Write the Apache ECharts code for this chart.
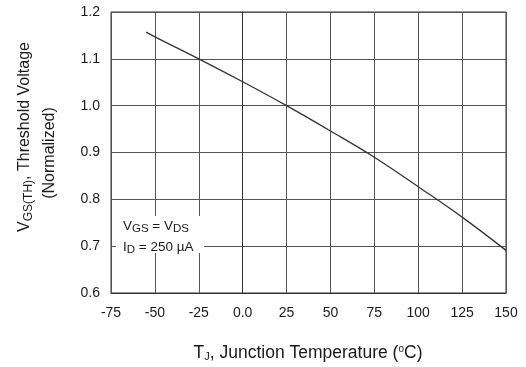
<!DOCTYPE html>
<html><head><meta charset="utf-8">
<script src="https://cdn.jsdelivr.net/npm/echarts@6/dist/echarts.min.js"></script>
<style>html,body{margin:0;padding:0;background:#fff}#c{width:526px;height:367px}</style>
</head><body><div id="c"></div>
<script>
const temps = [-55, -50, -25, 0, 25, 50, 75, 100, 125, 150];
const vth = [1.157, 1.147, 1.100, 1.051, 1.000, 0.946, 0.890, 0.827, 0.762, 0.691];
const xTicks = [-75, -50, -25, 0, 25, 50, 75, 100, 125, 150];
const yTicks = [0.6, 0.7, 0.8, 0.9, 1.0, 1.1, 1.2];

const chart = echarts.init(document.getElementById('c'));
const F = 'Liberation Sans, Arial, sans-serif';
const C = '#1a1a1a';
chart.setOption({
  animation: false,
  backgroundColor: '#fff',
  grid: {left: 111, right: 20, top: 12, bottom: 74, show: true, borderColor: '#333', borderWidth: 1},
  xAxis: {
    type: 'value', min: xTicks[0], max: xTicks[xTicks.length-1], interval: 25,
    axisLine: {show: true, lineStyle: {color: '#333'}},
    axisTick: {show: false},
    splitLine: {show: true, lineStyle: {color: '#555', width: 1}},
    axisLabel: {color: C, fontFamily: F, fontSize: 14, margin: 13,
      formatter: v => v === 0 ? '0.0' : String(v)}
  },
  yAxis: {
    type: 'value', min: yTicks[0], max: yTicks[yTicks.length-1], interval: 0.1,
    axisLine: {show: true, lineStyle: {color: '#333'}},
    axisTick: {show: false},
    splitLine: {show: true, lineStyle: {color: '#555', width: 1}},
    axisLabel: {color: C, fontFamily: F, fontSize: 14, margin: 11,
      formatter: v => v.toFixed(1)}
  },
  series: [{
    type: 'line', data: temps.map((t, i) => [t, vth[i]]),
    showSymbol: false, smooth: 0.4,
    lineStyle: {color: '#333', width: 1.3}, z: 5
  }],
  graphic: [
    {type: 'rect', shape: {x: 116, y: 216, width: 88, height: 37}, style: {fill: '#fff'}, z: 3},
    {type: 'text', x: 123, y: 218, z: 4, style: {
      text: '{n|V}{s|GS}{n| = V}{s|DS}', fill: C, fontFamily: F,
      rich: {n: {fontSize: 13.5, fontFamily: F, fill: C}, s: {fontSize: 11.5, fontFamily: F, fill: C, padding: [5, 0, 0, 0]}}
    }},
    {type: 'text', x: 123, y: 239, z: 4, style: {
      text: '{n|I}{s|D}{n| = 250 µA}', fill: C, fontFamily: F,
      rich: {n: {fontSize: 13.5, fontFamily: F, fill: C}, s: {fontSize: 11.5, fontFamily: F, fill: C, padding: [5, 0, 0, 0]}}
    }},
    {type: 'text', x: 308, y: 353, z: 4, style: {
      text: '{n|T}{s|J}{n|, Junction Temperature (}{p|o}{n|C)}', align: 'center', verticalAlign: 'middle',
      rich: {n: {fontSize: 17.5, fontFamily: F, fill: C}, s: {fontSize: 11, fontFamily: F, fill: C, padding: [7, 0, 0, 0]}, p: {fontSize: 10, fontFamily: F, fill: C, padding: [0, 0, 7, 0]}}
    }},
    {type: 'text', x: 25, y: 137, rotation: Math.PI / 2, z: 4, style: {
      text: '{n|V}{s|GS(TH)}{n|, Threshold Voltage}', align: 'center', verticalAlign: 'middle',
      rich: {n: {fontSize: 16, fontFamily: F, fill: C}, s: {fontSize: 12, fontFamily: F, fill: C, padding: [7, 0, 0, 0]}}
    }},
    {type: 'text', x: 50, y: 153, rotation: Math.PI / 2, z: 4, style: {
      text: '(Normalized)', align: 'center', verticalAlign: 'middle',
      fontSize: 16, fontFamily: F, fill: C
    }}
  ]
});
</script></body></html>
